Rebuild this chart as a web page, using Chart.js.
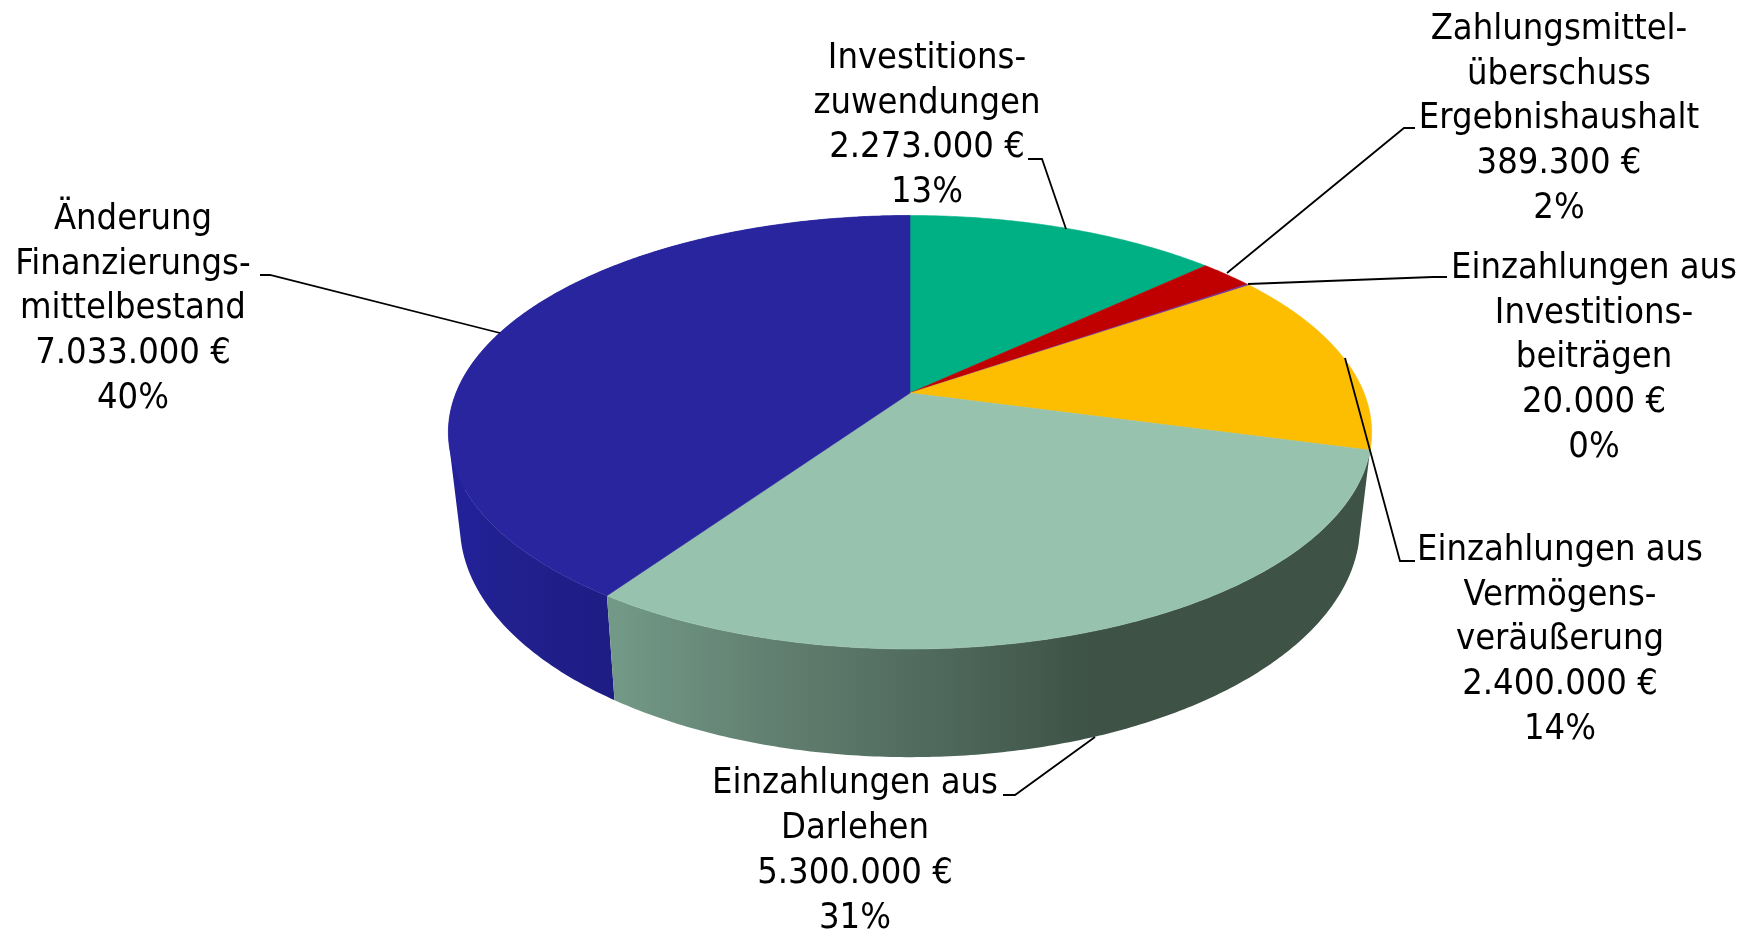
<!DOCTYPE html>
<html><head><meta charset="utf-8">
<style>html,body{margin:0;padding:0;background:#fff}canvas{display:block}</style>
<script src="https://cdn.jsdelivr.net/npm/chart.js@4"></script>
</head><body><canvas id="c" width="1751" height="933"></canvas>
<script>
const categories = [
  ["Investitions-","zuwendungen"],
  ["Zahlungsmittel-","überschuss","Ergebnishaushalt"],
  ["Einzahlungen aus","Investitions-","beiträgen"],
  ["Einzahlungen aus","Vermögens-","veräußerung"],
  ["Einzahlungen aus","Darlehen"],
  ["Änderung","Finanzierungs-","mittelbestand"]
];
const values = [2273000, 389300, 20000, 2400000, 5300000, 7033000];
const valueLabels = ["2.273.000 €","389.300 €","20.000 €","2.400.000 €","5.300.000 €","7.033.000 €"];
const percentLabels = ["13%","2%","0%","14%","31%","40%"];
const topColors = ["#00B085","#C00000","#7030A0","#FDBD00","#97C3AE","#28259F"];

// label layout: centre x, first-line y, leader polyline
const labelX = [927,1559,1594,1560,855,133];
const labelY = [58.5,29.5,268.5,550.5,784,219.5];
const leaders = [
  [[1028,159],[1042,159],[1066,229]],
  [[1415,128],[1404,128],[1227,273]],
  [[1447,277],[1433,277],[1248,284]],
  [[1345,358],[1400,561],[1415,561]],
  [[1003,795],[1015,795],[1095,737]],
  [[260,275],[270,275],[500,333]]
];

// perspective of the pie plane
const P = {cx:910, cy:393, a:454, b:138.5, k:-0.181, midY:432, sx:0.975, sy:1.07, d:93};
function topPt(t){ const x=Math.sin(t), y=-Math.cos(t), w=1+P.k*y;
  return [P.cx+P.a*x/w, (P.b*y+P.cy)/w]; }
function botPt(t){ const p=topPt(t);
  return [P.cx+(p[0]-P.cx)*P.sx, P.midY+(p[1]-P.midY)*P.sy+P.d]; }
function rim(ctx,fn,t0,t1,first){ const n=Math.max(2,Math.ceil(Math.abs(t1-t0)/0.01));
  for(let i=0;i<=n;i++){ const p=fn(t0+(t1-t0)*i/n);
    if(i===0&&first) ctx.moveTo(p[0],p[1]); else ctx.lineTo(p[0],p[1]); } }
function wall(ctx,t0,t1,paint){
  ctx.fillStyle=paint;
  const n=Math.ceil((t1-t0)/0.01);
  ctx.beginPath();
  for(let i=0;i<n;i++){
    const a=t0+(t1-t0)*i/n, b=t0+(t1-t0)*(i+1)/n;
    let p=[topPt(a),topPt(b),botPt(b),botPt(a)];
    let area=0;
    p.forEach((q,j)=>{const r=p[(j+1)%4]; area+=q[0]*r[1]-r[0]*q[1];});
    if(area<0) p=p.reverse();
    p.forEach((q,j)=>j?ctx.lineTo(q[0],q[1]):ctx.moveTo(q[0],q[1]));
    ctx.closePath();
  }
  ctx.fill('nonzero');
}

const pie3d = {
  id:'pie3d',
  beforeDatasetsDraw(chart){
    const ctx=chart.ctx, arcs=chart.getDatasetMeta(0).data;
    const ang=arcs.map(a=>[a.startAngle+Math.PI/2,a.endAngle+Math.PI/2]);
    ctx.save();
    // side walls: blue and light green slices (the others lie behind the top face)
    const gb=ctx.createLinearGradient(450,0,615,0);
    gb.addColorStop(0,"#22219A"); gb.addColorStop(0.35,"#21208E"); gb.addColorStop(1,"#1E1D84");
    wall(ctx,ang[5][0],ang[5][1],gb);
    const gg=ctx.createLinearGradient(607,0,1090,0);
    gg.addColorStop(0,"#739A88"); gg.addColorStop(0.33,"#628071"); gg.addColorStop(0.66,"#506B5E"); gg.addColorStop(1,"#3E5246");
    wall(ctx,ang[4][0],ang[4][1],gg);
    // top faces
    arcs.forEach((a,i)=>{
      ctx.fillStyle=topColors[i]; ctx.strokeStyle=topColors[i]; ctx.lineWidth=0.6;
      ctx.beginPath(); ctx.moveTo(P.cx,P.cy);
      rim(ctx,topPt,ang[i][0],ang[i][1],false);
      ctx.closePath(); ctx.fill(); ctx.stroke();
    });
    // leaders
    ctx.strokeStyle="#000"; ctx.lineWidth=1.8; ctx.lineJoin="miter";
    leaders.forEach(l=>{ ctx.beginPath(); l.forEach((p,i)=>i?ctx.lineTo(p[0],p[1]):ctx.moveTo(p[0],p[1])); ctx.stroke(); });
    // labels
    ctx.fillStyle="#000"; ctx.textAlign="center"; ctx.textBaseline="middle";
    ctx.font='36px "DejaVu Sans Condensed","DejaVu Sans"';
    try{ ctx.fontStretch="condensed"; }catch(e){}
    categories.forEach((c,i)=>{
      c.concat([valueLabels[i],percentLabels[i]]).forEach((s,j)=>{
        ctx.fillText(s,labelX[i],labelY[i]+j*44.75);
      });
    });
    ctx.restore();
    return false;
  }
};

new Chart(document.getElementById('c'),{
  type:'pie',
  data:{labels:categories.map(c=>c.join(' ')),datasets:[{data:values,backgroundColor:topColors,borderWidth:0}]},
  options:{responsive:false,animation:false,events:[],
    plugins:{legend:{display:false},tooltip:{enabled:false},title:{display:false}}},
  plugins:[pie3d]
});
</script></body></html>
